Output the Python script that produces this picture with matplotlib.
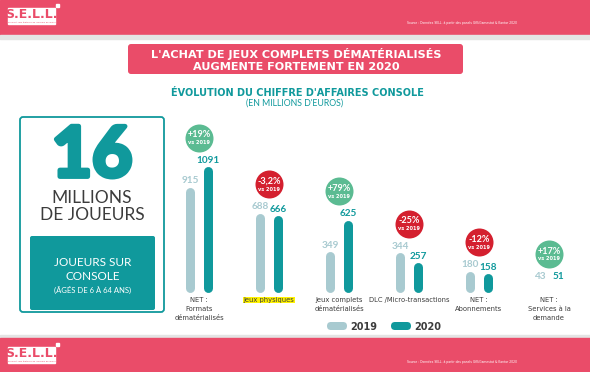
import matplotlib.pyplot as plt
import matplotlib.transforms as mtransforms
import matplotlib.patheffects as pe
from matplotlib.patches import Rectangle, FancyBboxPatch

# data (millions d'euros)
categories = ["NET :\nFormats\ndématérialisés", "Jeux physiques", "Jeux complets\ndématérialisés",
              "DLC /Micro-transactions", "NET :\nAbonnements", "NET :\nServices à la\ndemande"]
years = ["2019", "2020"]
values_2019 = [915, 688, 349, 344, 180, 43]
values_2020 = [1091, 666, 625, 257, 158, 51]
changes = ["+19%", "-3,2%", "+79%", "-25%", "-12%", "+17%"]

PINK = "#EA4C69"
TEAL = "#10999C"
LIGHT = "#A8CAD0"
GREEN = "#5BBB92"
RED = "#D4202F"
DARK = "#3C3C3C"

fig = plt.figure(figsize=(5.9, 3.72), dpi=100)

# background layer in pixel coordinates
bg = fig.add_axes([0, 0, 1, 1])
bg.set_xlim(0, 590)
bg.set_ylim(372, 0)
bg.axis("off")

# header / footer banners
bg.add_patch(Rectangle((0, 0), 590, 35, color=PINK))
bg.add_patch(Rectangle((0, 35), 590, 4, color="#E4E4E4"))
bg.add_patch(Rectangle((0, 335), 590, 3, color="#E4E4E4"))
bg.add_patch(Rectangle((0, 338), 590, 34, color=PINK))

source = "Source : Données SELL, à partir des panels GfK/Gamestat & Kantar 2020"
for y0 in (8, 347):
    bg.add_patch(Rectangle((8, y0), 47, 13, color="white"))
    bg.add_patch(Rectangle((56, y0 - 4), 3, 3, color="white"))
    bg.text(31.5, y0 + 6.8, "S.E.L.L.", color=PINK, fontsize=9, fontweight="bold",
            ha="center", va="center", family="DejaVu Sans")
    bg.add_patch(Rectangle((8, y0 + 13), 47, 3, color="white"))
    bg.text(31.5, y0 + 14.6, "syndicat des éditeurs de logiciels de loisirs", color=PINK,
            fontsize=1.6, ha="center", va="center")
    bg.text(517, y0 + 15, source, color="white", fontsize=2.2, ha="right", va="center")

# title
bg.add_patch(FancyBboxPatch((128, 44), 335, 30, boxstyle="round,pad=0,rounding_size=3",
                            color=PINK, lw=0))
bg.text(296, 54, "L'ACHAT DE JEUX COMPLETS DÉMATÉRIALISÉS", color="white", fontsize=8.1,
        fontweight="bold", ha="center", va="center", family="DejaVu Sans")
bg.text(296, 66.5, "AUGMENTE FORTEMENT EN 2020", color="white", fontsize=8.1,
        fontweight="bold", ha="center", va="center", family="DejaVu Sans")
bg.text(297, 93, "ÉVOLUTION DU CHIFFRE D'AFFAIRES CONSOLE", color=TEAL, fontsize=7,
        fontweight="bold", ha="center", va="center", family="DejaVu Sans")
bg.text(295, 103, "(EN MILLIONS D'EUROS)", color=TEAL, fontsize=6.3,
        ha="center", va="center", family="Lato")

# left panel
bg.add_patch(FancyBboxPatch((20, 117), 144, 195, boxstyle="round,pad=0,rounding_size=3",
                            facecolor="white", edgecolor=TEAL, lw=1.3))
bg.text(92, 157, "16", color=TEAL, fontsize=50, fontweight="bold", ha="center", va="center",
        family="Lato", path_effects=[pe.withStroke(linewidth=3.5, foreground=TEAL)])
bg.text(92, 198, "MILLIONS", color=DARK, fontsize=12.5, ha="center", va="center", family="Lato")
bg.text(92, 215, "DE JOUEURS", color=DARK, fontsize=12.5, ha="center", va="center", family="Lato")
bg.add_patch(FancyBboxPatch((30, 236), 125, 74, boxstyle="round,pad=0,rounding_size=2",
                            color=TEAL, lw=0))
bg.text(92.5, 262, "JOUEURS SUR", color="white", fontsize=8.5, ha="center", va="center",
        family="Lato")
bg.text(92.5, 276, "CONSOLE", color="white", fontsize=8.5, ha="center", va="center",
        family="Lato")
bg.text(92.5, 290, "(ÂGÉS DE 6 À 64 ANS)", color="white", fontsize=5.5, ha="center",
        va="center", family="Lato")

# legend
for (x0, col, lab) in [(327, LIGHT, years[0]), (391, TEAL, years[1])]:
    bg.add_patch(FancyBboxPatch((x0, 322), 20, 8, boxstyle="round,pad=0,rounding_size=4",
                                color=col, lw=0))
    bg.text(x0 + 23, 326.5, lab, color=DARK, fontsize=7, fontweight="bold", ha="left",
            va="center", family="DejaVu Sans")

# chart axes: bottom of bars at y=292px, 1500 units over 172px
ax = fig.add_axes([164 / 590, (372 - 292) / 372, 420 / 590, 172 / 372])
ax.set_xlim(-0.5, 5.5)
ax.set_ylim(0, 1500)
ax.axis("off")
ax.patch.set_alpha(0)

px = 1500 / 172          # data units per pixel
r = 4.5 * px             # cap radius
off = 9 / 70             # bar offset in group units


def offset(dy):
    return mtransforms.offset_copy(ax.transData, fig, x=0, y=dy, units="dots")


for i, cat in enumerate(categories):
    for (vals, dx, col) in [(values_2019, -off, LIGHT), (values_2020, off, TEAL)]:
        v = vals[i]
        top = max(v - r, r)
        ax.plot([i + dx, i + dx], [r, top], color=col, lw=9 * 0.72,
                solid_capstyle="round", clip_on=False)
        ax.text(i + dx, max(v, 2 * r), str(v), color=col, fontsize=7.2, fontweight="bold",
                ha="center", va="bottom", transform=offset(2), family="Lato")
    vmax = max(values_2019[i], values_2020[i], 2 * r)
    good = changes[i].startswith("+")
    ax.plot([i], [vmax], marker="o", ms=28 * 0.72, color=GREEN if good else RED,
            mec="none", transform=offset(29), clip_on=False)
    ax.text(i, vmax, changes[i], color="white", fontsize=6.6, fontweight="bold",
            ha="center", va="center", transform=offset(32), family="Lato")
    ax.text(i, vmax, "vs 2019", color="white", fontsize=3.6, fontweight="bold",
            ha="center", va="center", transform=offset(24), family="DejaVu Sans")
    kw = dict(color=DARK, fontsize=4.9, ha="center", va="top", linespacing=1.6,
              transform=offset(-5), family="DejaVu Sans")
    if cat == "Jeux physiques":
        kw["bbox"] = dict(facecolor="#FFF200", edgecolor="none", pad=0.3)
    ax.text(i, 0, cat, **kw)

fig.savefig("out.png", dpi=100)
